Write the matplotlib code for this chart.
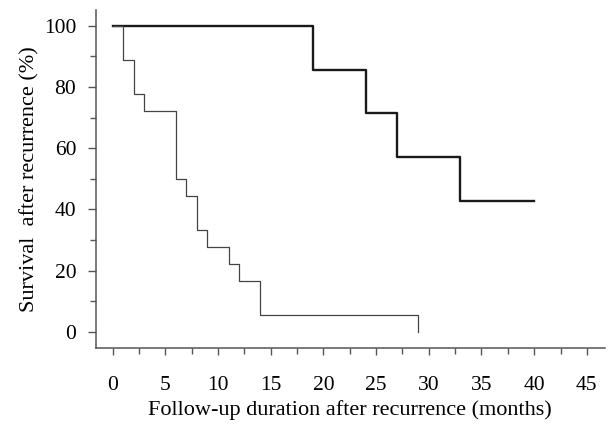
import matplotlib
matplotlib.use("Agg")
import matplotlib.pyplot as plt
from matplotlib.ticker import MultipleLocator

# group 1 (thick line), step times in months and survival %
t_good = [0, 19, 24, 27, 33, 40]
s_good = [100, 85.7, 71.4, 57.1, 42.9, 42.9]

# group 2 (thin line)
t_poor = [0, 1, 2, 3, 6, 7, 8, 9, 11, 12, 14, 29]
s_poor = [100, 88.9, 77.8, 72.2, 50.0, 44.4, 33.3, 27.8, 22.2, 16.7, 5.6, 0]

x_ticks = [0, 5, 10, 15, 20, 25, 30, 35, 40, 45]
y_ticks = [0, 20, 40, 60, 80, 100]

plt.rcParams['font.family'] = ['Liberation Serif', 'DejaVu Serif']

fig = plt.figure(figsize=(6.14, 4.3), dpi=100)
ax = fig.add_axes([0.156, 0.191, 0.829, 0.786])

ax.step(t_good, s_good, where='post', color='#1a1a1a', lw=1.7)
ax.step(t_poor, s_poor, where='post', color='#444444', lw=0.9)

ax.set_xlim(-1.6, 46.7)
ax.set_ylim(-5.2, 105.2)
ax.set_xticks(x_ticks)
ax.set_yticks(y_ticks)
ax.xaxis.set_minor_locator(MultipleLocator(2.5))
ax.yaxis.set_minor_locator(MultipleLocator(10))

for side in ['top', 'right']:
    ax.spines[side].set_visible(False)
for side in ['left', 'bottom']:
    ax.spines[side].set_color('#555555')
    ax.spines[side].set_linewidth(1.1)

ax.tick_params(axis='x', which='major', length=5, width=1, color='#555555',
               labelsize=15.5, pad=15)
ax.tick_params(axis='y', which='major', length=6, width=1, color='#555555',
               labelsize=15.5, pad=8)
ax.tick_params(which='minor', length=4, width=1, color='#555555')

ax.set_xlabel('Follow-up duration after recurrence (months)', fontsize=16, labelpad=4)
ax.set_ylabel('Survival  after recurrence (%)', fontsize=16, labelpad=3)

fig.savefig('out.png', dpi=100)
